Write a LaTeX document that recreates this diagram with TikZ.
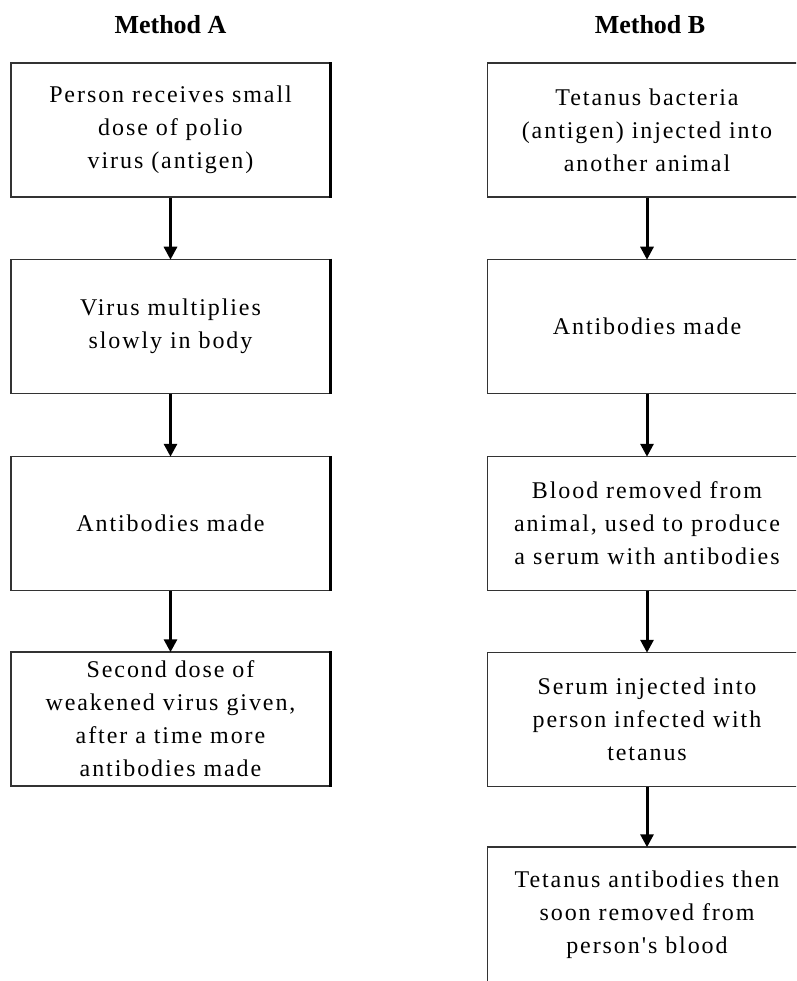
\documentclass[tikz,border=0pt]{standalone}
\usepackage{fontspec}
\setmainfont{Liberation Serif}
\newfontfamily\boxfont[LetterSpace=8]{Liberation Serif}
\usetikzlibrary{arrows.meta}
\tikzset{
  stepbox/.style={draw=black!80, line width=1.5pt, fill=white, rectangle,
    minimum width=319pt, minimum height=134pt, inner sep=0pt, align=center,
    font=\boxfont\fontsize{24}{33}\selectfont},
  flowarrow/.style={line width=3pt, -{Triangle[width=13pt,length=13pt]}, shorten >=-1pt},
  title/.style={font=\bfseries\fontsize{26}{30}\selectfont, inner sep=0pt}
}
\begin{document}
\begin{tikzpicture}[x=1pt,y=-1pt]
\useasboundingbox (0,0) rectangle (796,981);
\clip (0,0) rectangle (796,981);
\node[title] (tA) at (170.5,25) {Method A};
\node[title] (tB) at (650,25) {Method B};
% Method A
\node[stepbox] (a1) at (170.5,130) {Person receives small\\dose of polio\\virus (antigen)};
\node[stepbox] (a2) at (170.5,326.5) {Virus multiplies\\slowly in body};
\node[stepbox] (a3) at (170.5,523.5) {Antibodies made};
\node[stepbox] (a4) at (170.5,719) {Second dose of\\weakened virus given,\\after a time more\\antibodies made};
% Method B
\node[stepbox] (b1) at (647,130) {Tetanus bacteria\\(antigen) injected into\\another animal};
\node[stepbox] (b2) at (647,326.5) {Antibodies made};
\node[stepbox] (b3) at (647,523.5) {Blood removed from\\animal, used to produce\\a serum with antibodies};
\node[stepbox] (b4) at (647,719.5) {Serum injected into\\person infected with\\tetanus};
\node[stepbox, minimum height=136pt] (b5) at (647,915) {Tetanus antibodies then\\soon removed from\\person's blood};
% right edges of left boxes
\foreach \n in {a1,a2,a3,a4} \draw[line width=3pt] (\n.north east) -- (\n.south east);
% connectors
\draw[flowarrow] (a1.south) -- (a2.north);
\draw[flowarrow] (a2.south) -- (a3.north);
\draw[flowarrow] (a3.south) -- (a4.north);
\draw[flowarrow] (b1.south) -- (b2.north);
\draw[flowarrow] (b2.south) -- (b3.north);
\draw[flowarrow] (b3.south) -- (b4.north);
\draw[flowarrow] (b4.south) -- (b5.north);
\end{tikzpicture}
\end{document}
